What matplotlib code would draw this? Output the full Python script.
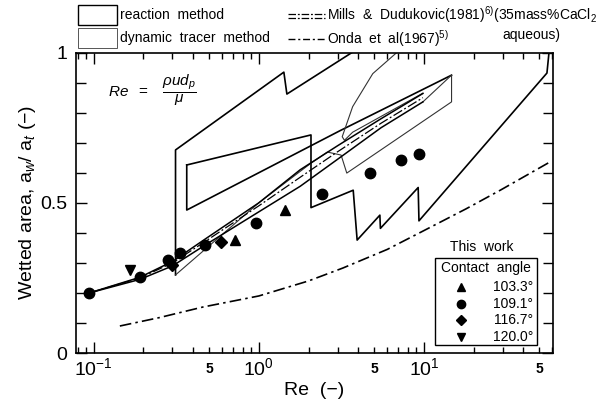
import numpy as np
import matplotlib.pyplot as plt
from matplotlib.patches import Rectangle
from matplotlib.lines import Line2D

plt.rcParams['font.family'] = ['Liberation Sans', 'DejaVu Sans']
plt.rcParams['mathtext.fontset'] = 'custom'
plt.rcParams['mathtext.rm'] = 'Liberation Sans'
plt.rcParams['mathtext.it'] = 'Liberation Sans:italic'

# --- this work (contact angle) ---
re_103 = [0.72, 1.45]
aw_103 = [0.376, 0.476]
re_109 = [0.094, 0.19, 0.282, 0.332, 0.475, 0.955, 2.4, 4.71, 7.22, 9.33]
aw_109 = [0.199, 0.252, 0.309, 0.332, 0.359, 0.434, 0.528, 0.598, 0.642, 0.661]
re_117 = [0.296, 0.588]
aw_117 = [0.293, 0.370]
re_120 = [0.165]
aw_120 = [0.276]

# --- Onda et al (1967) ---
re_onda = [0.144, 0.25, 0.457, 1.0, 2.0, 3.23, 6.0, 9.4, 18.0, 29.0, 58.0]
aw_onda = [0.090, 0.118, 0.153, 0.19, 0.24, 0.283, 0.345, 0.40, 0.48, 0.542, 0.636]

# --- Mills & Dudukovic (1981) ---
re_mills = [0.094, 0.19, 0.30, 0.475, 1.0, 1.78, 3.0, 5.5, 9.86]
aw_mills = [0.20, 0.25, 0.30, 0.372, 0.49, 0.585, 0.67, 0.765, 0.85]

# --- correlation band (solid pair) ---
re_band = [0.094, 0.19, 0.30, 0.475, 1.0, 1.78, 3.0, 5.5, 9.86]
aw_band_hi = [0.20, 0.252, 0.305, 0.38, 0.50, 0.61, 0.69, 0.78, 0.864]
aw_band_lo = [0.20, 0.245, 0.29, 0.36, 0.47, 0.555, 0.645, 0.75, 0.836]

# --- reaction method region ---
re_react_a = [0.313, 0.313, 1.418, 1.479, 3.66]
aw_react_a = [0.26, 0.676, 0.935, 0.862, 1.0]
re_react_b = [0.366, 2.07, 2.07, 3.73, 3.94, 5.41, 5.45, 9.23, 9.33, 55.6, 57.2]
aw_react_b = [0.626, 0.726, 0.484, 0.542, 0.376, 0.459, 0.415, 0.551, 0.440, 0.932, 1.0]
re_react_c = [0.366, 0.366, 3.10, 14.7]
aw_react_c = [0.626, 0.476, 0.740, 0.925]

# --- dynamic tracer method region ---
re_dyn = [0.313, 1.0, 2.07, 2.6, 3.15, 3.41, 14.7, 14.7, 9.86]
aw_dyn = [0.26, 0.50, 0.632, 0.669, 0.659, 0.599, 0.836, 0.925, 0.836]
re_dyn2 = [6.84, 4.9, 3.7, 3.2, 3.3, 3.7, 9.86]
aw_dyn2 = [1.0, 0.93, 0.82, 0.72, 0.708, 0.735, 0.865]

fig = plt.figure(figsize=(6.12, 4.11), dpi=100)
ax = fig.add_axes([0.124, 0.141, 0.7796, 0.731])

ax.plot(re_react_a, aw_react_a, color='black', lw=1.2)
ax.plot(re_react_b, aw_react_b, color='black', lw=1.2)
ax.plot(re_react_c, aw_react_c, color='black', lw=1.2)
ax.plot(re_dyn, aw_dyn, color='#333333', lw=0.8)
ax.plot(re_dyn2, aw_dyn2, color='#333333', lw=0.8)
ax.plot(re_band, aw_band_hi, color='black', lw=1.1)
ax.plot(re_band, aw_band_lo, color='black', lw=1.1)
ax.plot(re_mills, aw_mills, color='black', lw=0.9, dashes=[8, 2, 1.5, 2])
ax.plot(re_onda, aw_onda, color='black', lw=1.2, dashes=[7, 2.5, 1.5, 2.5])

ms = 7.5
ax.plot(re_103, aw_103, '^', color='black', ms=ms)
ax.plot(re_109, aw_109, 'o', color='black', ms=ms)
ax.plot(re_117, aw_117, 'D', color='black', ms=ms - 1.5)
ax.plot(re_120, aw_120, 'v', color='black', ms=ms)

ax.set_xscale('log')
ax.set_xlim(0.078, 60.5)
ax.set_ylim(0, 1)
ax.set_yticks([0, 0.5, 1])
ax.set_yticklabels(['0', '0.5', '1'])
ax.set_yticks(np.arange(0, 1.01, 0.1), minor=True)
ax.set_xticks([0.1, 1, 10])
ax.set_xticklabels(['$10^{-1}$', '$10^{0}$', '$10^{1}$'])
ax.tick_params(which='both', direction='in', top=True, right=True, width=1.0)
ax.tick_params(which='major', length=8, labelsize=14, pad=6)
ax.tick_params(axis='x', which='major', pad=3)
ax.tick_params(which='minor', length=4)
ax.tick_params(axis='y', which='minor', length=7)
for s in ax.spines.values():
    s.set_linewidth(1.2)
for x5 in [0.5, 5, 50]:
    ax.text(x5, -0.03, '5', ha='center', va='top', fontsize=10, fontweight='bold',
            transform=ax.get_xaxis_transform())

ax.set_xlabel('Re  (−)', fontsize=14, labelpad=2)
ax.set_ylabel('Wetted area, a$_w$/ a$_t$ (−)', fontsize=14, labelpad=2)

ax.text(0.1216, 0.85, r'$Re\ \ =\ \ \ \dfrac{\rho u d_p}{\mu}$', fontsize=11)

# top legend
fig.patches.append(Rectangle((78 / 612, 1 - 25 / 411), 39 / 612, 20 / 411,
                             transform=fig.transFigure, fill=False, ec='black', lw=1.0))
fig.patches.append(Rectangle((78 / 612, 1 - 48 / 411), 39 / 612, 20 / 411,
                             transform=fig.transFigure, fill=False, ec='#555555', lw=0.7))
fig.text(120 / 612, 1 - 15 / 411, 'reaction  method', fontsize=10, va='center')
fig.text(120 / 612, 1 - 38 / 411, 'dynamic  tracer  method', fontsize=10, va='center')
fig.lines.append(Line2D([288 / 612, 325 / 612], [1 - 14 / 411] * 2, transform=fig.transFigure,
                        color='black', lw=0.9, dashes=[6, 1.5, 1.5, 1.5]))
fig.lines.append(Line2D([288 / 612, 325 / 612], [1 - 18 / 411] * 2, transform=fig.transFigure,
                        color='black', lw=0.9, dashes=[6, 1.5, 1.5, 1.5]))
fig.lines.append(Line2D([288 / 612, 325 / 612], [1 - 39 / 411] * 2, transform=fig.transFigure,
                        color='black', lw=1.0, dashes=[5, 2, 1.5, 2]))
fig.text(327 / 612, 1 - 15 / 411, r'Mills  &  Dudukovic(1981)$^{6)}$(35mass%CaCl$_2$',
         fontsize=10, va='center')
fig.text(560 / 612, 1 - 35 / 411, 'aqueous)', fontsize=10, va='center', ha='right')
fig.text(327 / 612, 1 - 39 / 411, r'Onda  et  al(1967)$^{5)}$', fontsize=10, va='center')

# this work legend
fig.text(482 / 612, 1 - 247 / 411, 'This  work', fontsize=10, ha='center', va='center')
fig.patches.append(Rectangle((435 / 612, 1 - 345 / 411), 102 / 612, 87 / 411,
                             transform=fig.transFigure, fill=False, ec='black', lw=1.0))
fig.text(486 / 612, 1 - 268 / 411, 'Contact  angle', fontsize=10, ha='center', va='center')
labels = ['103.3°', '109.1°', '116.7°', '120.0°']
marks = ['^', 'o', 'D', 'v']
for i, (lab, mk) in enumerate(zip(labels, marks)):
    yy = 1 - (287 + i * 16.5) / 411
    fig.lines.append(Line2D([461 / 612], [yy], transform=fig.transFigure, marker=mk,
                            color='black', ms=6 if mk != 'D' else 5, ls='none'))
    fig.text(533 / 612, yy, lab, fontsize=10, ha='right', va='center')

fig.savefig('out.png', dpi=100)
